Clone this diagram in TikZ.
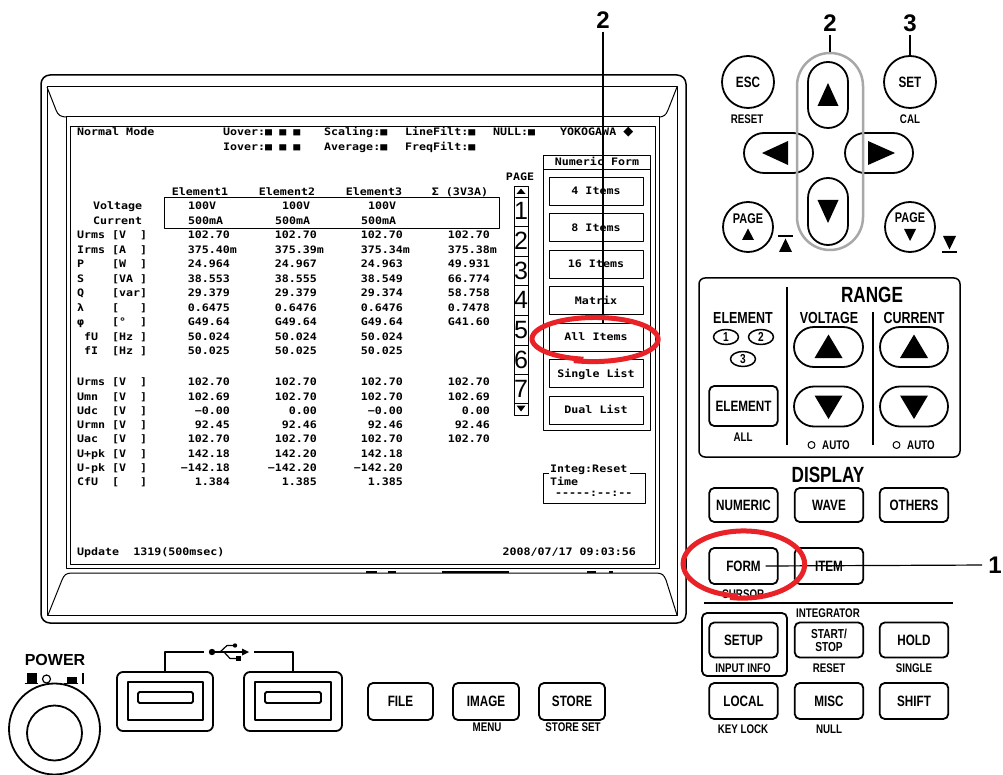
\documentclass[tikz,border=0pt]{standalone}
\usepackage{fontspec}
\setmainfont{Liberation Sans}
\newfontfamily\lcdf[FakeStretch=1.13]{DejaVu Sans Mono}
\newfontfamily\keyf[FakeStretch=0.78]{Liberation Sans}
\newfontfamily\digf{Liberation Sans}
\newfontfamily\djs{DejaVu Sans}
\usetikzlibrary{calc,shapes.geometric}
\definecolor{pen}{RGB}{232,34,38}
\definecolor{ring}{RGB}{168,168,168}
\begin{document}
\begin{tikzpicture}[x=1pt,y=-1pt,line join=round]
\tikzset{
 lcd/.style={font=\lcdf\bfseries\fontsize{10.3}{12}\selectfont, inner sep=0pt, anchor=base west},
 lcdR/.style={lcd, anchor=base east},
 lcdC/.style={lcd, anchor=base},
 formbtn/.style={draw, line width=0.9pt, minimum width=94pt, minimum height=28pt, inner sep=0pt, font=\lcdf\bfseries\fontsize{10.3}{12}\selectfont, text height=7.5pt, text depth=0pt},
 keybox/.style={draw, line width=1.8pt, rounded corners=5pt, minimum width=68.5pt, minimum height=35pt, inner sep=0pt, font=\keyf\bfseries\fontsize{15}{15}\selectfont},
 sublbl/.style={font=\keyf\bfseries\fontsize{12.5}{12.5}\selectfont, inner sep=0pt},
 hdr/.style={font=\keyf\bfseries\fontsize{16}{16}\selectfont, inner sep=0pt},
 big/.style={font=\keyf\bfseries\fontsize{22}{22}\selectfont, inner sep=0pt},
 callout/.style={font=\digf\bfseries\fontsize{24}{24}\selectfont, inner sep=0pt},
 pill/.style={draw, line width=1.8pt, rounded corners=20pt, inner sep=0pt},
 roundkey/.style={draw, circle, line width=1.8pt, minimum size=52pt, inner sep=0pt, font=\keyf\bfseries\fontsize{15}{15}\selectfont},
 redpen/.style={draw=pen, line width=5pt},
 leader/.style={line width=1.2pt},
 thin/.style={line width=0.9pt},
}
\useasboundingbox (0,0) rectangle (1003,775);
\fill[white] (0,0) rectangle (1003,775);

% ---------- screen housing ----------
\draw[line width=1.5pt, rounded corners=9pt] (41,75) rectangle (686,623);
\draw[line width=1pt] (47,87) rectangle (677,615);
\draw[line width=1pt] (47,87) -- (56,110) .. controls (58,115.5) and (61,117) .. (67,117);
\draw[line width=1pt] (677,87) -- (668,110) .. controls (666,115.5) and (663,117) .. (659,117);
\draw[line width=1pt] (48,615) -- (62,580) .. controls (64,575) and (66,573) .. (72,573) -- (656,573) .. controls (662,573) and (664,575) .. (666,580) -- (677,615);
\draw[line width=1pt] (66,117) rectangle (659,568);
\draw[thin] (70,126) rectangle (655,564);
\foreach \a/\b in {366/377,388/396,442/509,587/596,609/613} \draw[line width=2.2pt] (\a,572) -- (\b,572);

% ---------- screen header ----------
\node[lcd] (hNM) at (77,135.7) {Normal Mode};
\node[lcd] (hUo) at (223,135.7) {Uover:■ ■ ■};
\node[lcd] (hSc) at (324,135.7) {Scaling:■};
\node[lcd] (hLF) at (405,135.7) {LineFilt:■};
\node[lcd] (hNU) at (493,135.7) {NULL:■};
\node[lcd] (hYK) at (560,135.7) {YOKOGAWA {\djs\fontsize{13}{13}\selectfont ◆}};
\node[lcd] (hIo) at (223,150.7) {Iover:■ ■ ■};
\node[lcd] (hAv) at (324,150.7) {Average:■};
\node[lcd] (hFF) at (405,150.7) {FreqFilt:■};

% ---------- element box ----------
\draw[thin] (164,197) rectangle (499,228);
\node[lcdC] (el1) at (200,196) {Element1};
\node[lcdC] (el2) at (287,196) {Element2};
\node[lcdC] (el3) at (374,196) {Element3};
\node[lcdC] (elS) at (460,196) {Σ (3V3A)};
\node[lcd] (vol) at (93,209.5) {Voltage};
\node[lcd] (cur) at (93,224.5) {Current};
\node[lcd] (v1) at (188,209.5) {100V};
\node[lcd] (v2) at (282,209.5) {100V};
\node[lcd] (v3) at (368,209.5) {100V};
\node[lcd] (a1) at (188,224.5) {500mA};
\node[lcd] (a2) at (275,224.5) {500mA};
\node[lcd] (a3) at (361,224.5) {500mA};

% ---------- data rows ----------
\foreach \yy/\nm/\un/\va/\vb/\vc/\vd in {
 235/Urms/{[V~~]}/102.70/102.70/102.70/102.70,
 249.5/Irms/{[A~~]}/375.40\rlap{m}/375.39\rlap{m}/375.34\rlap{m}/375.38\rlap{m},
 264/P/{[W~~]}/24.964/24.967/24.963/49.931,
 278.5/S/{[VA~]}/38.553/38.555/38.549/66.774,
 293/Q/{[var]}/29.379/29.379/29.374/58.758,
 307.5/λ/{[~~~]}/0.6475/0.6476/0.6476/0.7478,
 322/φ/{[°~~]}/G49.64/G49.64/G49.64/G41.60,
 336.5/~fU/{[Hz~]}/50.024/50.024/50.024/{},
 351/~fI/{[Hz~]}/50.025/50.025/50.025/{},
 382/Urms/{[V~~]}/102.70/102.70/102.70/102.70,
 396.3/Umn/{[V~~]}/102.69/102.70/102.70/102.69,
 410.6/Udc/{[V~~]}/−0.00/0.00/−0.00/0.00,
 425/Urmn/{[V~~]}/92.45/92.46/92.46/92.46,
 439.2/Uac/{[V~~]}/102.70/102.70/102.70/102.70,
 453.5/U+pk/{[V~~]}/142.18/142.20/142.18/{},
 467.8/U-pk/{[V~~]}/−142.18/−142.20/−142.20/{},
 482/CfU/{[~~~]}/1.384/1.385/1.385/{}}
{
 \node[lcd] at (77,\yy+3.7) {\nm};
 \node[lcd] at (112,\yy+3.7) {\un};
 \node[lcdR] at (230,\yy+3.7) {\va};
 \node[lcdR] at (317,\yy+3.7) {\vb};
 \node[lcdR] at (403,\yy+3.7) {\vc};
 \node[lcdR] at (490,\yy+3.7) {\vd};
}

% ---------- footer ----------
\node[lcd] (upd) at (77,555.7) {Update~~1319(500msec)};
\node[lcdR] (dt) at (636,555.7) {2008/07/17 09:03:56};

% ---------- page column ----------
\node[lcdC] (pg) at (520,180.7) {PAGE};
\draw[thin] (514,186) rectangle (528,415);
\foreach \s in {197,226,256,285,315,345,374,403} \draw[line width=0.6pt] (514,\s) -- (528,\s);
\fill (516.5,194) -- (525.5,194) -- (521,188.5) -- cycle;
\fill (516.5,405.5) -- (525.5,405.5) -- (521,411.5) -- cycle;
\foreach \d in {1,...,7} \node[font=\digf\fontsize{25}{25}\selectfont, inner sep=0pt] (pd\d) at (521,{211+29.7*(\d-1)}) {\d};

% ---------- numeric form panel ----------
\draw[thin] (543,155) rectangle (650,430);
\draw[thin] (543,169) -- (650,169);
\node[lcdC] (nfT) at (597,165.7) {Numeric Form};
\foreach \c/\t [count=\k] in {191/4 Items,227.5/8 Items,264/16 Items,300.5/Matrix,337/All Items,373.5/Single List,410/Dual List}
 \node[formbtn] (nf\k) at (596,\c) {\t};

% integ box
\draw[thin] (549,473) -- (543,473) -- (543,503) -- (645,503) -- (645,473) -- (630,473);
\node[lcd] (ig) at (550,472) {Integ:Reset};
\node[lcd] (tm) at (550,485.5) {Time};
\node[lcd] (tv) at (555,496.5) {-{}-{}-{}-{}-:-{}-:-{}-};

% ---------- navigation keys ----------
\node[roundkey] (esc) at (748,82) {ESC};
\node[sublbl] (escs) at (747,119) {RESET};
\node[roundkey] (setk) at (910,82) {SET};
\node[sublbl] (sets) at (910,119) {CAL};
\node[pill, minimum width=40pt, minimum height=66pt] (upk) at (828,95) {};
\node[pill, minimum width=40pt, minimum height=67pt] (dnk) at (828,211.5) {};
\node[pill, minimum width=69pt, minimum height=40pt] (lfk) at (778.5,153) {};
\node[pill, minimum width=68pt, minimum height=40pt] (rtk) at (879,153) {};
\fill ($(upk)+(0,-12)$) -- ($(upk)+(10.5,11)$) -- ($(upk)+(-10.5,11)$) -- cycle;
\fill ($(dnk)+(0,11.5)$) -- ($(dnk)+(10.5,-11.5)$) -- ($(dnk)+(-10.5,-11.5)$) -- cycle;
\fill ($(lfk)+(-16.5,0)$) -- ($(lfk)+(9.5,-12)$) -- ($(lfk)+(9.5,12)$) -- cycle;
\fill ($(rtk)+(16,0)$) -- ($(rtk)+(-11,-12)$) -- ($(rtk)+(-11,12)$) -- cycle;
\node[draw=ring, line width=2.5pt, rounded corners=33pt, minimum width=66pt, minimum height=197pt, inner sep=0pt] (grp) at (830,151.5) {};

\node[roundkey, minimum size=50pt] (pgu) at (748,227) {};
\node[font=\keyf\bfseries\fontsize{14}{14}\selectfont, inner sep=0pt] (pgut) at (748,219) {PAGE};
\fill (742,240) -- (754,240) -- (748,228.5) -- cycle;
\node[roundkey, minimum size=50pt] (pgd) at (910,227) {};
\node[font=\keyf\bfseries\fontsize{14}{14}\selectfont, inner sep=0pt] (pgdt) at (910,218) {PAGE};
\fill (904,229) -- (916,229) -- (910,241) -- cycle;
\draw[line width=1.8pt] (778,236) -- (793,236);
\fill (779,252) -- (792,252) -- (785.5,238.5) -- cycle;
\fill (943,236) -- (956,236) -- (949.5,249.5) -- cycle;
\draw[line width=1.8pt] (942,252) -- (957,252);

\node[callout] (c2b) at (830,23) {2};
\draw[leader, shorten <=3pt] (c2b.south) -- (grp.north);
\node[callout] (c3) at (910,23) {3};
\draw[leader, shorten <=3pt] (c3.south) -- (setk.north);

% ---------- range panel ----------
\node[draw, line width=1.5pt, rounded corners=6pt, minimum width=261pt, minimum height=179pt, inner sep=0pt] (rng) at (829.5,367.5) {};
\draw[line width=1.3pt] (787,287) -- (787,445);
\draw[line width=1.3pt] (873,312) -- (873,445);
\node[big] (rngT) at (872,295) {RANGE};
\node[hdr] (elT) at (743,317.5) {ELEMENT};
\node[hdr] (vT) at (829,317.5) {VOLTAGE};
\node[hdr] (cT) at (914,317.5) {CURRENT};
\node[draw, ellipse, line width=1.5pt, minimum width=25pt, minimum height=15pt, inner sep=0pt, font=\keyf\bfseries\fontsize{13}{13}\selectfont] (ec1) at (726,337) {1};
\node[draw, ellipse, line width=1.5pt, minimum width=25pt, minimum height=15pt, inner sep=0pt, font=\keyf\bfseries\fontsize{13}{13}\selectfont] (ec2) at (761,337) {2};
\node[draw, ellipse, line width=1.5pt, minimum width=25pt, minimum height=15pt, inner sep=0pt, font=\keyf\bfseries\fontsize{13}{13}\selectfont] (ec3) at (743,359) {3};
\node[keybox, minimum height=40pt] (elk) at (743.5,406) {ELEMENT};
\node[sublbl] (all) at (743,437) {ALL};
\node[pill, minimum width=69pt, minimum height=40pt] (vup) at (828.5,347) {};
\node[pill, minimum width=69pt, minimum height=40pt] (vdn) at (828.5,406.5) {};
\node[pill, minimum width=68pt, minimum height=40pt] (cup) at (914,347) {};
\node[pill, minimum width=68pt, minimum height=40pt] (cdn) at (914,406.5) {};
\foreach \k in {vup,cup} \fill ($(\k)+(0,-12.5)$) -- ($(\k)+(14,11)$) -- ($(\k)+(-14,11)$) -- cycle;
\foreach \k in {vdn,cdn} \fill ($(\k)+(0,12.5)$) -- ($(\k)+(14,-11)$) -- ($(\k)+(-14,-11)$) -- cycle;
\draw[line width=1pt] (811.5,445) circle (3.5);
\node[sublbl, anchor=west] (au1) at (822,445) {AUTO};
\draw[line width=1pt] (896.5,445) circle (3.5);
\node[sublbl, anchor=west] (au2) at (907,445) {AUTO};

% ---------- display keys ----------
\node[big] (dsp) at (828,475) {DISPLAY};
\node[keybox, minimum height=34pt] (numk) at (743.5,505) {NUMERIC};
\node[keybox, minimum height=34pt] (wavk) at (829,505) {WAVE};
\node[keybox, minimum height=34pt] (othk) at (914,505) {OTHERS};
\node[keybox, minimum height=36pt] (formk) at (743.5,566) {FORM};
\node[keybox, minimum height=36pt] (itemk) at (829,566) {ITEM};
\node[sublbl] (curs) at (743,594) {CURSOR};
\draw[line width=2pt] (704,603) -- (953,603);
\node[sublbl] (integ) at (828,613) {INTEGRATOR};
\node[draw, line width=1.8pt, rounded corners=5pt, minimum width=85pt, minimum height=63pt, inner sep=0pt] (grpS) at (744.5,644.5) {};
\node[keybox] (setupk) at (743.5,640) {SETUP};
\node[keybox] (ssk) at (829,640) {};
\node[font=\keyf\bfseries\fontsize{13}{13}\selectfont, inner sep=0pt] (ss1) at (829,633.5) {START/};
\node[font=\keyf\bfseries\fontsize{13}{13}\selectfont, inner sep=0pt] (ss2) at (829,647.5) {STOP};
\node[keybox] (holdk) at (914,640) {HOLD};
\node[sublbl] (inpi) at (743,668) {INPUT INFO};
\node[sublbl] (rst) at (829,668) {RESET};
\node[sublbl] (sgl) at (914,668) {SINGLE};
\node[keybox, minimum height=36pt] (lock) at (743.5,701) {LOCAL};
\node[keybox, minimum height=36pt] (misck) at (829,701) {MISC};
\node[keybox, minimum height=36pt] (shk) at (914,701) {SHIFT};
\node[sublbl] (klk) at (743,729) {KEY LOCK};
\node[sublbl] (nul) at (829,729) {NULL};

% ---------- bottom left ----------
\node[font=\digf\bfseries\fontsize{16}{16}\selectfont, inner sep=0pt] (pwr) at (55,660) {POWER};
\fill (27,672.5) rectangle (36.5,683);
\draw[line width=1.5pt] (24.5,683.5) -- (38,683.5);
\draw[line width=1.2pt] (46.5,679) circle (4);
\fill (67,677) rectangle (76.5,683);
\draw[line width=1.5pt] (64,683.5) -- (78,683.5);
\fill (81.5,672.5) rectangle (83.7,684);
\node[draw, circle, line width=1.8pt, minimum size=91pt, inner sep=0pt] (pwo) at (54.5,729) {};
\node[draw, circle, line width=1.8pt, minimum size=55pt, inner sep=0pt] (pwi) at (54.5,733) {};

\node[draw, line width=1.8pt, rounded corners=6pt, minimum width=96pt, minimum height=59pt, inner sep=0pt] (usb1) at (165,701.5) {};
\draw[line width=1.8pt] (128,682) rectangle (203,720);
\draw[line width=1.8pt, rounded corners=1.5pt] (138,692) rectangle (193,703);
\node[draw, line width=1.8pt, rounded corners=6pt, minimum width=98pt, minimum height=59pt, inner sep=0pt] (usb2) at (293,701.5) {};
\draw[line width=1.8pt] (255,682) rectangle (331,720);
\draw[line width=1.8pt, rounded corners=1.5pt] (265,692) rectangle (321,703);
\coordinate (ub1) at (204,652);
\coordinate (ub2) at (254,652);
\draw[leader] (usb1.north) |- (ub1);
\draw[leader] (usb2.north) |- (ub2);
\fill (212,652) circle (3.2);
\draw[leader] (212,652) -- (243,652);
\fill (249,652) -- (242,648.5) -- (242,655.5) -- cycle;
\draw[leader] (220,652) -- (227,645.5) -- (233,645.5);
\fill (235,645.5) circle (2.2);
\draw[leader] (224,652) -- (230,658.5) -- (236,658.5);
\fill (235.5,656) rectangle (240.5,661);

\node[keybox, minimum width=65pt, minimum height=37pt] (filek) at (400.5,701.5) {FILE};
\node[keybox, minimum width=66pt, minimum height=37pt] (imgk) at (486,701.5) {IMAGE};
\node[keybox, minimum width=66pt, minimum height=37pt] (stok) at (572,701.5) {STORE};
\node[sublbl] (menu) at (487,727) {MENU};
\node[sublbl] (stset) at (573,727) {STORE SET};

% ---------- callouts and red marks ----------
\node[callout] (c2a) at (603,20) {2};
\draw[leader, shorten <=3pt] (c2a.south) -- (c2a.south |- nf5.north);
\node[callout] (c1) at (995,565) {1};
\coordinate (f1) at ($(formk.center)+(22,0)$);
\draw[leader, shorten >=6pt] (f1) -- (c1.west);

\draw[redpen] plot[smooth, samples=90, domain=100:468] ({594+(61+0.012*(\x-100))*cos(\x)}, {339+(20.5+0.006*(\x-100))*sin(\x)});
\draw[redpen] plot[smooth, samples=90, domain=95:462] ({743+(59+0.01*(\x-95))*cos(\x)}, {564+(32+0.006*(\x-95))*sin(\x)});
\end{tikzpicture}
\end{document}
